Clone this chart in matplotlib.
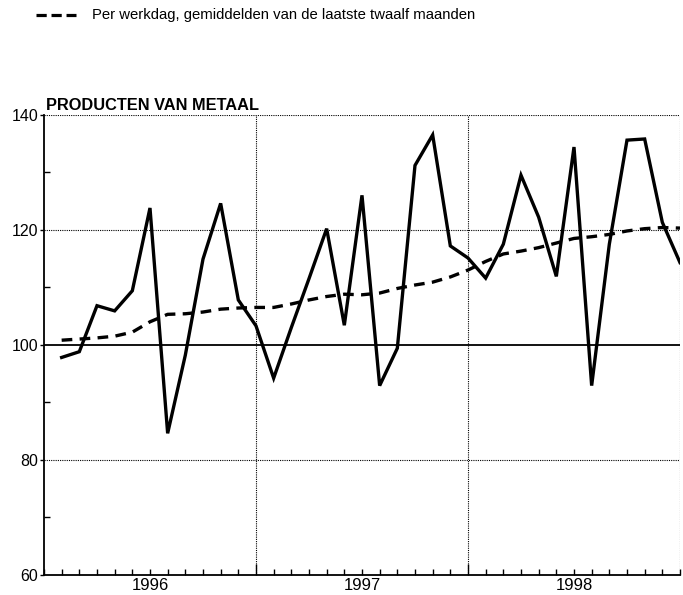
import matplotlib.pyplot as plt
from matplotlib.lines import Line2D

plt.rcParams['font.family'] = ['Liberation Sans', 'DejaVu Sans']

years = ['1996', '1997', '1998']
months = list(range(1, 37))

# production per working day (index)
per_werkdag = [97.8, 98.8, 106.8, 105.9, 109.4, 123.8,
               84.6, 98.2, 114.9, 124.6, 107.8, 103.3,
               94.2, 103.0, 111.5, 120.2, 103.4, 126.0,
               92.9, 99.4, 131.2, 136.5, 117.2, 115.1,
               111.6, 117.5, 129.5, 122.2, 111.9, 134.4,
               92.9, 117.5, 135.6, 135.8, 121.3, 114.3]

# twelve-month moving average
gemiddelde = [100.8, 101.0, 101.2, 101.5, 102.2, 104.0,
              105.3, 105.4, 105.7, 106.2, 106.4, 106.5,
              106.5, 107.1, 107.8, 108.4, 108.8, 108.7,
              109.0, 109.8, 110.4, 110.9, 111.8, 113.0,
              114.5, 115.8, 116.3, 116.9, 117.7, 118.5,
              118.8, 119.2, 119.8, 120.2, 120.4, 120.3]

fig = plt.figure(figsize=(6.83, 5.95), dpi=100)
ax = fig.add_axes([0.0644, 0.034, 0.9312, 0.773])

ax.set_xlim(0, 36)
ax.set_ylim(60, 140)

# grid
for y in [80, 120, 140]:
    ax.axhline(y, color='black', lw=0.8, ls=(0, (1, 1)), zorder=1)
ax.axhline(100, color='black', lw=1.3, zorder=1)
for x in [12, 24, 36]:
    ax.axvline(x, color='black', lw=0.8, ls=(0, (1, 1)), zorder=1)

ax.plot(months, per_werkdag, color='black', lw=2.4, solid_joinstyle='miter', zorder=3)
ax.plot(months, gemiddelde, color='black', lw=2.4, ls=(0, (3.2, 2.2)), zorder=3)

for side in ['top', 'right']:
    ax.spines[side].set_visible(False)
ax.spines['left'].set_linewidth(1.3)
ax.spines['bottom'].set_linewidth(1.3)

ax.set_yticks([60, 80, 100, 120, 140])
ax.set_yticks([70, 90, 110, 130], minor=True)
ax.set_yticklabels(['60', '80', '100', '120', '140'], fontsize=11.5)
ax.tick_params(axis='y', which='major', direction='out', length=3, width=1, pad=1)
ax.tick_params(axis='y', which='minor', direction='in', length=4, width=1)

ax.set_xticks([12, 24])
ax.set_xticks(range(0, 37), minor=True)
ax.set_xticklabels([])
ax.tick_params(axis='x', which='major', direction='in', length=8, width=1)
ax.tick_params(axis='x', which='minor', direction='in', length=4, width=1)
for i, yr in enumerate(years):
    ax.text(6 + 12 * i, 57.4, yr, ha='center', va='baseline', fontsize=12)

ax.text(0.1, 140.3, 'PRODUCTEN VAN METAAL', ha='left', va='bottom',
        fontsize=11.8, fontweight='bold')

# legend line at top
fig.add_artist(Line2D([0.052, 0.112], [0.975, 0.975], color='black', lw=2.3,
                      ls=(0, (3.2, 1.5))))
fig.text(0.134, 0.975, 'Per werkdag, gemiddelden van de laatste twaalf maanden',
         ha='left', va='center', fontsize=10.7)

plt.savefig('out.png', dpi=100)
